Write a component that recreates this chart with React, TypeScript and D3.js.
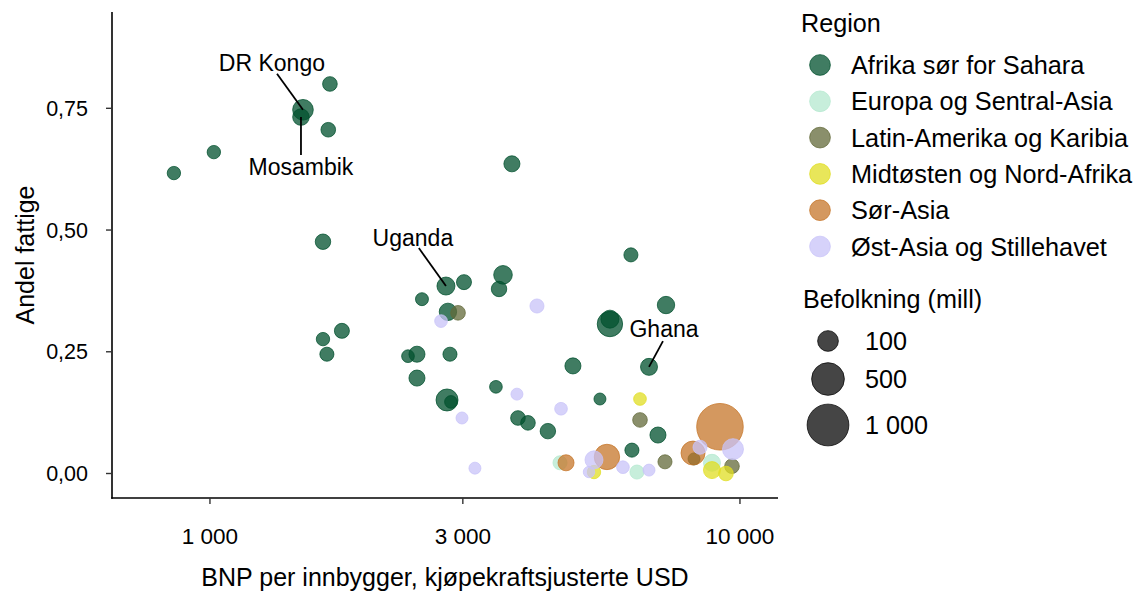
import React from "react";
import * as d3 from "d3";

type Pt = [number, number, number]; // [BNP per innbygger, andel fattige, befolkning (mill)]

const regions = [
  "Afrika sør for Sahara",
  "Europa og Sentral-Asia",
  "Latin-Amerika og Karibia",
  "Midtøsten og Nord-Afrika",
  "Sør-Asia",
  "Øst-Asia og Stillehavet",
];
const regionColors = ["#00502e", "#b4e8cf", "#636939", "#e0de23", "#c67529", "#c8c3f8"];

const afrika: Pt[] = [
  [855, 0.617, 6], [1017, 0.66, 6], [1498, 0.747, 98], [1485, 0.732, 33], [1684, 0.8, 14],
  [1672, 0.706, 14], [1634, 0.476, 21], [3713, 0.636, 27], [2788, 0.385, 52], [3015, 0.393, 17],
  [3572, 0.408, 61], [3511, 0.379, 21], [2512, 0.358, 4], [2812, 0.332, 43], [1774, 0.293, 17],
  [1634, 0.276, 6], [1662, 0.245, 10], [2364, 0.241, 3], [2458, 0.245, 27], [2837, 0.245, 10],
  [2458, 0.196, 27], [2801, 0.151, 128], [2849, 0.147, 3], [3464, 0.178, 3], [3812, 0.114, 14],
  [3981, 0.104, 14], [4341, 0.087, 21], [4840, 0.221, 27], [5443, 0.153, 1], [6227, 0.449, 10],
  [7252, 0.346, 43], [5684, 0.307, 219], [5684, 0.317, 52], [6736, 0.219, 38], [7003, 0.079, 27],
  [6254, 0.048, 10], [8191, 0.03, 1],
];
const europa: Pt[] = [[4576, 0.022, 10], [6392, 0.003, 10], [8855, 0.022, 38]];
const latin: Pt[] = [[2938, 0.33, 14], [6477, 0.11, 14], [7220, 0.024, 10], [9659, 0.015, 14]];
const midtosten: Pt[] = [[6477, 0.153, 3], [5304, 0.003, 6], [8855, 0.007, 38], [9410, 0.0, 14]];
const sorAsia: Pt[] = [[4697, 0.022, 27], [5611, 0.034, 219], [8155, 0.042, 179], [9168, 0.096, 1341]];
const ostAsia: Pt[] = [
  [2729, 0.313, 3], [4140, 0.344, 10], [2989, 0.114, 1], [3795, 0.163, 1], [4596, 0.133, 3],
  [3162, 0.011, 1], [5304, 0.028, 52], [5190, 0.003, 0.2], [6015, 0.013, 3], [6736, 0.007, 1],
  [8407, 0.054, 10], [9701, 0.05, 106],
];
const seriesData = [afrika, europa, latin, midtosten, sorAsia, ostAsia];

const xTicks = [1000, 3000, 10000];
const xTickLabels = ["1 000", "3 000", "10 000"];
const yTicks = [0, 0.25, 0.5, 0.75];
const yTickLabels = ["0,00", "0,25", "0,50", "0,75"];
const sizeBreaks = [100, 500, 1000];
const sizeLabels = ["100", "500", "1 000"];

// name, point [gdp, poor], label anchor [gdp, poor], leader line start [gdp, poor]
const annotationNames = ["DR Kongo", "Mosambik", "Uganda", "Ghana"];
const annotationPoints = [[1498, 0.747], [1485, 0.732], [2788, 0.385], [6736, 0.219]];
const annotationLabels = [[1309, 0.827], [1485, 0.613], [2415, 0.468], [7189, 0.281]];
const annotationLineStarts = [[1338, 0.821], [1485, 0.654], [2478, 0.463], [7157, 0.272]];

const FONT = "'Liberation Sans', Arial, sans-serif";

export default function App() {
  const W = 1140, H = 591;
  const left = 112, right = 778, top = 12, bottom = 498;
  const x = d3.scaleLog().domain([653.4, 11797]).range([left, right]);
  const y = d3.scaleLinear().domain([-0.0503, 0.9478]).range([bottom, top]);
  const r = d3.scaleSqrt().domain([0, 1000]).range([5.5, 20.87]);

  const points = seriesData.flatMap((arr, gi) =>
    [...arr].sort((a, b) => b[2] - a[2]).map((d, i) => ({ d, gi, key: `${gi}-${i}` }))
  );

  return (
    <svg width={W} height={H} style={{ position: "absolute", left: 0, top: 0, background: "#fff" }} fontFamily={FONT}>
      <rect x={0} y={0} width={W} height={H} fill="#fff" />
      {/* points */}
      <g>
        {points.map(({ d, gi, key }) => (
          <circle
            key={key}
            cx={x(d[0])}
            cy={y(d[1])}
            r={r(d[2])}
            fill={regionColors[gi]}
            fillOpacity={0.75}
            stroke={regionColors[gi]}
            strokeOpacity={0.75}
            strokeWidth={1}
          />
        ))}
      </g>
      {/* annotations */}
      <g>
        {annotationNames.map((n, i) => (
          <g key={n}>
            <line
              x1={x(annotationLineStarts[i][0])}
              y1={y(annotationLineStarts[i][1])}
              x2={x(annotationPoints[i][0])}
              y2={y(annotationPoints[i][1])}
              stroke="#000"
              strokeWidth={1.8}
            />
            <text x={x(annotationLabels[i][0])} y={y(annotationLabels[i][1])} textAnchor="middle" fontSize={23} fill="#000">
              {n}
            </text>
          </g>
        ))}
      </g>
      {/* axes */}
      <line x1={left} x2={left} y1={top} y2={bottom + 0.7} stroke="#000" strokeWidth={1.6} />
      <line x1={left - 0.8} x2={right} y1={bottom} y2={bottom} stroke="#000" strokeWidth={1.6} />
      {yTicks.map((t, i) => (
        <g key={t}>
          <line x1={left - 6} x2={left} y1={y(t)} y2={y(t)} stroke="#333" strokeWidth={1.4} />
          <text x={88} y={y(t) + 7.5} textAnchor="end" fontSize={21.5} fill="#000">
            {yTickLabels[i]}
          </text>
        </g>
      ))}
      {xTicks.map((t, i) => (
        <g key={t}>
          <line x1={x(t)} x2={x(t)} y1={bottom} y2={bottom + 6} stroke="#333" strokeWidth={1.4} />
          <text x={x(t)} y={544} textAnchor="middle" fontSize={22.5} fill="#000">
            {xTickLabels[i]}
          </text>
        </g>
      ))}
      <text x={34} y={(top + bottom) / 2} transform={`rotate(-90, 34, ${(top + bottom) / 2})`} textAnchor="middle" fontSize={25} fill="#000">
        Andel fattige
      </text>
      <text x={(left + right) / 2} y={586} textAnchor="middle" fontSize={25} fill="#000">
        BNP per innbygger, kjøpekraftsjusterte USD
      </text>
      {/* legend: region */}
      <text x={801} y={32} fontSize={25.2} fill="#000">Region</text>
      {regions.map((name, i) => {
        const cy = 65 + i * 36.3;
        return (
          <g key={name}>
            <circle cx={820} cy={cy} r={r(100)} fill={regionColors[i]} fillOpacity={0.75} stroke={regionColors[i]} strokeOpacity={0.75} strokeWidth={1} />
            <text x={851} y={cy + 9} fontSize={25.3} fill="#000">{name}</text>
          </g>
        );
      })}
      {/* legend: size */}
      <text x={803} y={308} fontSize={25.2} fill="#000">Befolkning (mill)</text>
      {sizeBreaks.map((b, i) => {
        const cy = [341, 379, 425][i];
        return (
          <g key={b}>
            <circle cx={828} cy={cy} r={r(b)} fill="#000" fillOpacity={0.73} stroke="#000" strokeOpacity={0.73} strokeWidth={1} />
            <text x={865} y={cy + 8.5} fontSize={25.2} fill="#000">{sizeLabels[i]}</text>
          </g>
        );
      })}
    </svg>
  );
}
